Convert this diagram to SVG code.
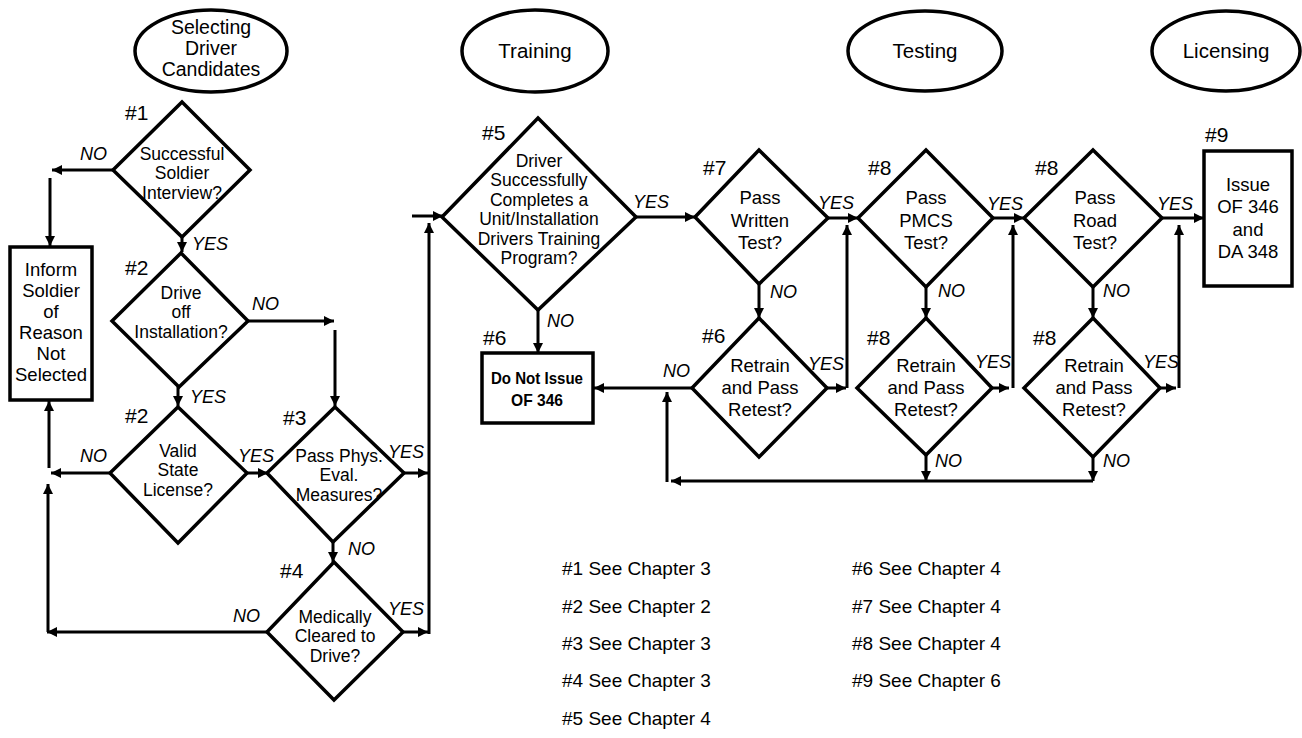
<svg xmlns="http://www.w3.org/2000/svg" width="1302" height="738" viewBox="0 0 1302 738">
<style>
.shape{fill:#fff;stroke:#000;stroke-width:3.5}
.t{font-family:"Liberation Sans",Arial,sans-serif;font-size:18.5px;text-anchor:middle;fill:#000}
.s{font-size:17.5px}
.h{font-family:"Liberation Sans",Arial,sans-serif;font-size:21px;fill:#000}
.y{font-family:"Liberation Sans",Arial,sans-serif;font-size:18px;font-style:italic;fill:#000}
.e{font-family:"Liberation Sans",Arial,sans-serif;font-size:20.5px;text-anchor:middle;fill:#000}
.lg{font-family:"Liberation Sans",Arial,sans-serif;font-size:19px;fill:#000}
.a{fill:none;stroke:#000;stroke-width:3;marker-end:url(#ah)}
</style>
<defs>
<marker id="ah" markerUnits="userSpaceOnUse" markerWidth="11" markerHeight="10" refX="10" refY="5" orient="auto">
<path d="M0,0 L10,5 L0,10 z" fill="#000"/>
</marker>
</defs>
<rect width="1302" height="738" fill="#fff"/>

<g id="phase-selecting">
<ellipse class="shape" cx="211" cy="51" rx="76" ry="41"/>
<text class="e" x="211" y="34" style="font-size:19.5px">Selecting</text>
<text class="e" x="211" y="55" style="font-size:19.5px">Driver</text>
<text class="e" x="211" y="76" style="font-size:19.5px">Candidates</text>
</g>
<g id="phase-training">
<ellipse class="shape" cx="535" cy="51" rx="73" ry="41"/>
<text class="e" x="535" y="58">Training</text>
</g>
<g id="phase-testing">
<ellipse class="shape" cx="925" cy="51" rx="77" ry="40"/>
<text class="e" x="925" y="58">Testing</text>
</g>
<g id="phase-licensing">
<ellipse class="shape" cx="1226" cy="51" rx="74" ry="40"/>
<text class="e" x="1226" y="58">Licensing</text>
</g>

<g id="connectors">
<line class="a" x1="113" y1="170" x2="52" y2="170"/>
<line class="a" x1="50" y1="178" x2="50" y2="246"/>
<line class="a" x1="182" y1="237" x2="182" y2="252"/>
<line class="a" x1="248" y1="321" x2="334" y2="321"/>
<line class="a" x1="335" y1="330" x2="335" y2="406"/>
<line class="a" x1="178" y1="387" x2="178" y2="406"/>
<line class="a" x1="110" y1="473" x2="51" y2="473"/>
<line class="a" x1="49" y1="468" x2="49" y2="401"/>
<line class="a" x1="267" y1="632" x2="47" y2="632"/>
<line class="a" x1="48" y1="632" x2="48" y2="484"/>
<line class="a" x1="247" y1="473" x2="268" y2="473"/>
<line class="a" x1="333" y1="542" x2="333" y2="562"/>
<line class="a" x1="404" y1="473" x2="428" y2="473"/>
<line class="a" x1="403" y1="632" x2="428" y2="632"/>
<line class="a" x1="429" y1="634" x2="429" y2="223"/>
<line class="a" x1="412" y1="216" x2="443" y2="216"/>
<line class="a" x1="636" y1="217" x2="695" y2="217"/>
<line class="a" x1="538" y1="310" x2="538" y2="353"/>
<line class="a" x1="828" y1="218" x2="858" y2="218"/>
<line class="a" x1="759" y1="284" x2="759" y2="318"/>
<line class="a" x1="692" y1="388" x2="594" y2="388"/>
<line class="a" x1="827" y1="388" x2="846" y2="388"/>
<line class="a" x1="847" y1="388" x2="847" y2="225"/>
<line class="a" x1="667" y1="482" x2="667" y2="392"/>
<line class="a" x1="1093" y1="481" x2="671" y2="481"/>
<line class="a" x1="993" y1="218" x2="1024" y2="218"/>
<line class="a" x1="926" y1="287" x2="926" y2="318"/>
<line class="a" x1="992" y1="388" x2="1009" y2="388"/>
<line class="a" x1="1013" y1="388" x2="1013" y2="225"/>
<line class="a" x1="926" y1="455" x2="926" y2="481"/>
<line class="a" x1="1162" y1="218" x2="1204" y2="218"/>
<line class="a" x1="1093" y1="287" x2="1093" y2="318"/>
<line class="a" x1="1160" y1="388" x2="1176" y2="388"/>
<line class="a" x1="1179" y1="388" x2="1179" y2="225"/>
<line class="a" x1="1093" y1="457" x2="1093" y2="481"/>
</g>

<g id="edge-labels">
<text class="y" x="80" y="160">NO</text>
<text class="y" x="192" y="250">YES</text>
<text class="y" x="252" y="310">NO</text>
<text class="y" x="190" y="403">YES</text>
<text class="y" x="80" y="462">NO</text>
<text class="y" x="238" y="462">YES</text>
<text class="y" x="388" y="458">YES</text>
<text class="y" x="348" y="555">NO</text>
<text class="y" x="233" y="622">NO</text>
<text class="y" x="388" y="615">YES</text>
<text class="y" x="633" y="208">YES</text>
<text class="y" x="547" y="327">NO</text>
<text class="y" x="818" y="209">YES</text>
<text class="y" x="770" y="298">NO</text>
<text class="y" x="663" y="377">NO</text>
<text class="y" x="808" y="370">YES</text>
<text class="y" x="987" y="210">YES</text>
<text class="y" x="938" y="297">NO</text>
<text class="y" x="975" y="368">YES</text>
<text class="y" x="935" y="467">NO</text>
<text class="y" x="1157" y="210">YES</text>
<text class="y" x="1103" y="297">NO</text>
<text class="y" x="1143" y="368">YES</text>
<text class="y" x="1103" y="467">NO</text>
</g>

<g id="n1">
<polygon class="shape" points="182,102 250,170 182,237 113,170"/>
<text class="h" x="125" y="120">#1</text>
<text class="t s" x="182" y="159.5">Successful</text>
<text class="t s" x="182" y="179">Soldier</text>
<text class="t s" x="182" y="198.5">Interview?</text>
</g>
<g id="inform">
<rect class="shape" x="10" y="247" width="82" height="153"/>
<text class="t" x="51" y="276">Inform</text>
<text class="t" x="51" y="297">Soldier</text>
<text class="t" x="51" y="318">of</text>
<text class="t" x="51" y="339">Reason</text>
<text class="t" x="51" y="360">Not</text>
<text class="t" x="51" y="381">Selected</text>
</g>
<g id="n2a">
<polygon class="shape" points="181,253 248,321 179,387 112,321"/>
<text class="h" x="125" y="275">#2</text>
<text class="t s" x="181" y="298.5">Drive</text>
<text class="t s" x="181" y="318">off</text>
<text class="t s" x="181" y="337.5">Installation?</text>
</g>
<g id="n2b">
<polygon class="shape" points="178,407 247,473 178,543 110,473"/>
<text class="h" x="125" y="423">#2</text>
<text class="t s" x="178" y="456.5">Valid</text>
<text class="t s" x="178" y="476">State</text>
<text class="t s" x="178" y="495.5">License?</text>
</g>
<g id="n3">
<polygon class="shape" points="335,407 404,473 333,542 267,473"/>
<text class="h" x="283" y="425">#3</text>
<text class="t s" x="339" y="461.5">Pass Phys.</text>
<text class="t s" x="339" y="481">Eval.</text>
<text class="t s" x="339" y="500.5">Measures?</text>
</g>
<g id="n4">
<polygon class="shape" points="334,562 403,632 334,700 267,632"/>
<text class="h" x="280" y="578">#4</text>
<text class="t s" x="335" y="622.5">Medically</text>
<text class="t s" x="335" y="642">Cleared to</text>
<text class="t s" x="335" y="661.5">Drive?</text>
</g>
<g id="n5">
<polygon class="shape" points="538,118 636,217 538,310 442,217"/>
<text class="h" x="482" y="140">#5</text>
<text class="t s" x="539" y="166.5">Driver</text>
<text class="t s" x="539" y="186">Successfully</text>
<text class="t s" x="539" y="205.6">Completes a</text>
<text class="t s" x="539" y="225.2">Unit/Installation</text>
<text class="t s" x="539" y="244.8">Drivers Training</text>
<text class="t s" x="539" y="264.4">Program?</text>
</g>
<g id="n6-box">
<rect class="shape" x="482" y="353" width="111" height="70"/>
<text class="h" x="483" y="345">#6</text>
<text class="t" x="537" y="384" style="font-size:17px;font-weight:bold" textLength="92" lengthAdjust="spacingAndGlyphs">Do Not Issue</text>
<text class="t" x="537" y="406" style="font-size:17px;font-weight:bold" textLength="52" lengthAdjust="spacingAndGlyphs">OF 346</text>
</g>
<g id="n7">
<polygon class="shape" points="759,150 828,218 759,284 695,217"/>
<text class="h" x="703" y="175">#7</text>
<text class="t" x="760" y="204">Pass</text>
<text class="t" x="760" y="227">Written</text>
<text class="t" x="760" y="249">Test?</text>
</g>
<g id="n6-retrain">
<polygon class="shape" points="759,318 827,388 759,457 692,388"/>
<text class="h" x="702" y="343">#6</text>
<text class="t" x="760" y="372">Retrain</text>
<text class="t" x="760" y="394">and Pass</text>
<text class="t" x="760" y="416">Retest?</text>
</g>
<g id="n8-pmcs">
<polygon class="shape" points="926,150 993,218 926,287 858,218"/>
<text class="h" x="868" y="175">#8</text>
<text class="t" x="926" y="204">Pass</text>
<text class="t" x="926" y="227">PMCS</text>
<text class="t" x="926" y="249">Test?</text>
</g>
<g id="n8-pmcs-retrain">
<polygon class="shape" points="926,318 992,388 926,455 857,388"/>
<text class="h" x="867" y="345">#8</text>
<text class="t" x="926" y="372">Retrain</text>
<text class="t" x="926" y="394">and Pass</text>
<text class="t" x="926" y="416">Retest?</text>
</g>
<g id="n8-road">
<polygon class="shape" points="1093,150 1162,218 1093,287 1024,218"/>
<text class="h" x="1035" y="175">#8</text>
<text class="t" x="1095" y="204">Pass</text>
<text class="t" x="1095" y="227">Road</text>
<text class="t" x="1095" y="249">Test?</text>
</g>
<g id="n8-road-retrain">
<polygon class="shape" points="1093,318 1160,388 1093,457 1024,388"/>
<text class="h" x="1033" y="345">#8</text>
<text class="t" x="1094" y="372">Retrain</text>
<text class="t" x="1094" y="394">and Pass</text>
<text class="t" x="1094" y="416">Retest?</text>
</g>
<g id="n9">
<rect class="shape" x="1204" y="151" width="88" height="135"/>
<text class="h" x="1205" y="142">#9</text>
<text class="t" x="1248" y="191">Issue</text>
<text class="t" x="1248" y="213">OF 346</text>
<text class="t" x="1248" y="236">and</text>
<text class="t" x="1248" y="258">DA 348</text>
</g>

<g id="legend">
<text class="lg" x="562" y="575">#1 See Chapter 3</text>
<text class="lg" x="562" y="613">#2 See Chapter 2</text>
<text class="lg" x="562" y="650">#3 See Chapter 3</text>
<text class="lg" x="562" y="687">#4 See Chapter 3</text>
<text class="lg" x="562" y="725">#5 See Chapter 4</text>
<text class="lg" x="852" y="575">#6 See Chapter 4</text>
<text class="lg" x="852" y="613">#7 See Chapter 4</text>
<text class="lg" x="852" y="650">#8 See Chapter 4</text>
<text class="lg" x="852" y="687">#9 See Chapter 6</text>
</g>
</svg>
